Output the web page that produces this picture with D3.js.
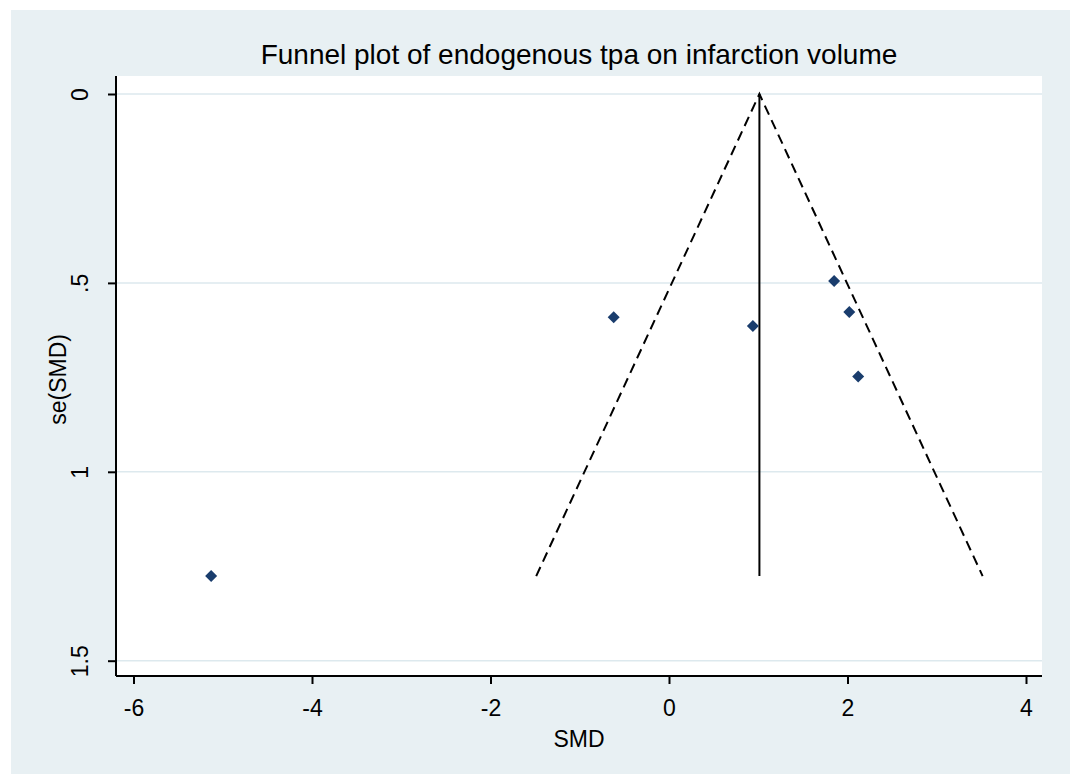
<!DOCTYPE html>
<html>
<head>
<meta charset="utf-8">
<script src="https://cdn.jsdelivr.net/npm/d3@7"></script>
<style>
  html, body { margin: 0; padding: 0; background: #ffffff; }
  svg { display: block; }
  text { font-family: "Liberation Sans", Arial, sans-serif; fill: #000; }
</style>
</head>
<body>
<svg id="chart" width="1073" height="774"></svg>
<script>
// Study-level effect sizes and their standard errors
const smd = [-5.13, -0.62, 0.94, 1.85, 2.02, 2.12];
const seSmd = [1.276, 0.591, 0.614, 0.495, 0.577, 0.748];
// Pooled (fixed-effect) estimate that centres the funnel
const pooled = [1.013];
const xTicks = [-6, -4, -2, 0, 2, 4];
const yTicks = [0, 0.5, 1, 1.5];
const yTickLabels = ["0", ".5", "1", "1.5"];
const title = "Funnel plot of endogenous tpa on infarction volume";

const svg = d3.select("#chart");
const W = 1073, H = 774;

// Outer graph region
svg.append("rect").attr("x", 11).attr("y", 10).attr("width", W - 11 - 3).attr("height", H - 10)
  .attr("fill", "#e8f0f3");

// Plot region
const plot = { left: 116, right: 1042, top: 76, bottom: 676 };
svg.append("rect").attr("x", plot.left).attr("y", plot.top)
  .attr("width", plot.right - plot.left).attr("height", plot.bottom - plot.top)
  .attr("fill", "#ffffff");

const x = d3.scaleLinear().domain([-6, 4]).range([133.5, 1026]);
const y = d3.scaleLinear().domain([0, 1.5]).range([94, 660.7]);

// Horizontal grid lines
svg.append("g").selectAll("line").data(yTicks).join("line")
  .attr("x1", plot.left).attr("x2", plot.right)
  .attr("y1", d => y(d)).attr("y2", d => y(d))
  .attr("stroke", "#dde9ee").attr("stroke-width", 1.5);

// Axes
const xAxis = d3.axisBottom(x).tickValues(xTicks).tickSize(8).tickPadding(16)
  .tickFormat(d3.format("d"));
const gx = svg.append("g").attr("transform", `translate(0,${plot.bottom})`).call(xAxis);
gx.select(".domain").attr("d", `M${plot.left},0H${plot.right}`).attr("stroke", "#000").attr("stroke-width", 2);
gx.selectAll(".tick line").attr("stroke", "#000").attr("stroke-width", 2);
gx.selectAll(".tick text").attr("font-size", 23).attr("font-family", "Liberation Sans, Arial, sans-serif")
  .text(d => d < 0 ? "-" + Math.abs(d) : String(d));

const yAxis = d3.axisLeft(y).tickValues(yTicks).tickSize(8).tickPadding(0)
  .tickFormat((d, i) => yTickLabels[i]);
const gy = svg.append("g").attr("transform", `translate(${plot.left},0)`).call(yAxis);
gy.select(".domain").attr("d", `M0,${plot.top}V${plot.bottom}`).attr("stroke", "#000").attr("stroke-width", 2);
gy.selectAll(".tick line").attr("stroke", "#000").attr("stroke-width", 2);
gy.selectAll(".tick text")
  .attr("font-size", 23).attr("font-family", "Liberation Sans, Arial, sans-serif")
  .attr("text-anchor", "middle").attr("x", null).attr("dy", null)
  .attr("transform", "translate(-36,0) rotate(-90)")
  .attr("y", 0).attr("dominant-baseline", "central");

// Axis titles and plot title
svg.append("text").attr("x", (plot.left + plot.right) / 2).attr("y", 747)
  .attr("text-anchor", "middle").attr("font-size", 23).text("SMD");
svg.append("text").attr("transform", `translate(58,${(y(0.5) + y(1)) / 2 + 2}) rotate(-90)`)
  .attr("text-anchor", "middle").attr("dominant-baseline", "central").attr("font-size", 23).text("se(SMD)");
svg.append("text").attr("x", (plot.left + plot.right) / 2).attr("y", 64)
  .attr("text-anchor", "middle").attr("font-size", 28).text(title);

// Pseudo 95% confidence limits
const theta = pooled[0];
const seMax = d3.max(seSmd);
const funnel = [
  [[theta - 1.96 * seMax, seMax], [theta, 0], [theta + 1.96 * seMax, seMax]]
];
const line = d3.line().x(d => x(d[0])).y(d => y(d[1]));
svg.append("g").selectAll("path").data(funnel).join("path")
  .attr("d", line).attr("fill", "none").attr("stroke", "#000")
  .attr("stroke-width", 2).attr("stroke-dasharray", "10,6");

// Pooled estimate line
svg.append("line").attr("x1", x(theta)).attr("x2", x(theta))
  .attr("y1", y(0)).attr("y2", y(seMax))
  .attr("stroke", "#000").attr("stroke-width", 2);

// Study markers
const diamond = d3.symbol().type(d3.symbolSquare).size(72);
svg.append("g").selectAll("path").data(smd.map((v, i) => [v, seSmd[i]])).join("path")
  .attr("d", diamond)
  .attr("transform", d => `translate(${x(d[0])},${y(d[1])}) rotate(45)`)
  .attr("fill", "#1a3d6d");
</script>
</body>
</html>
